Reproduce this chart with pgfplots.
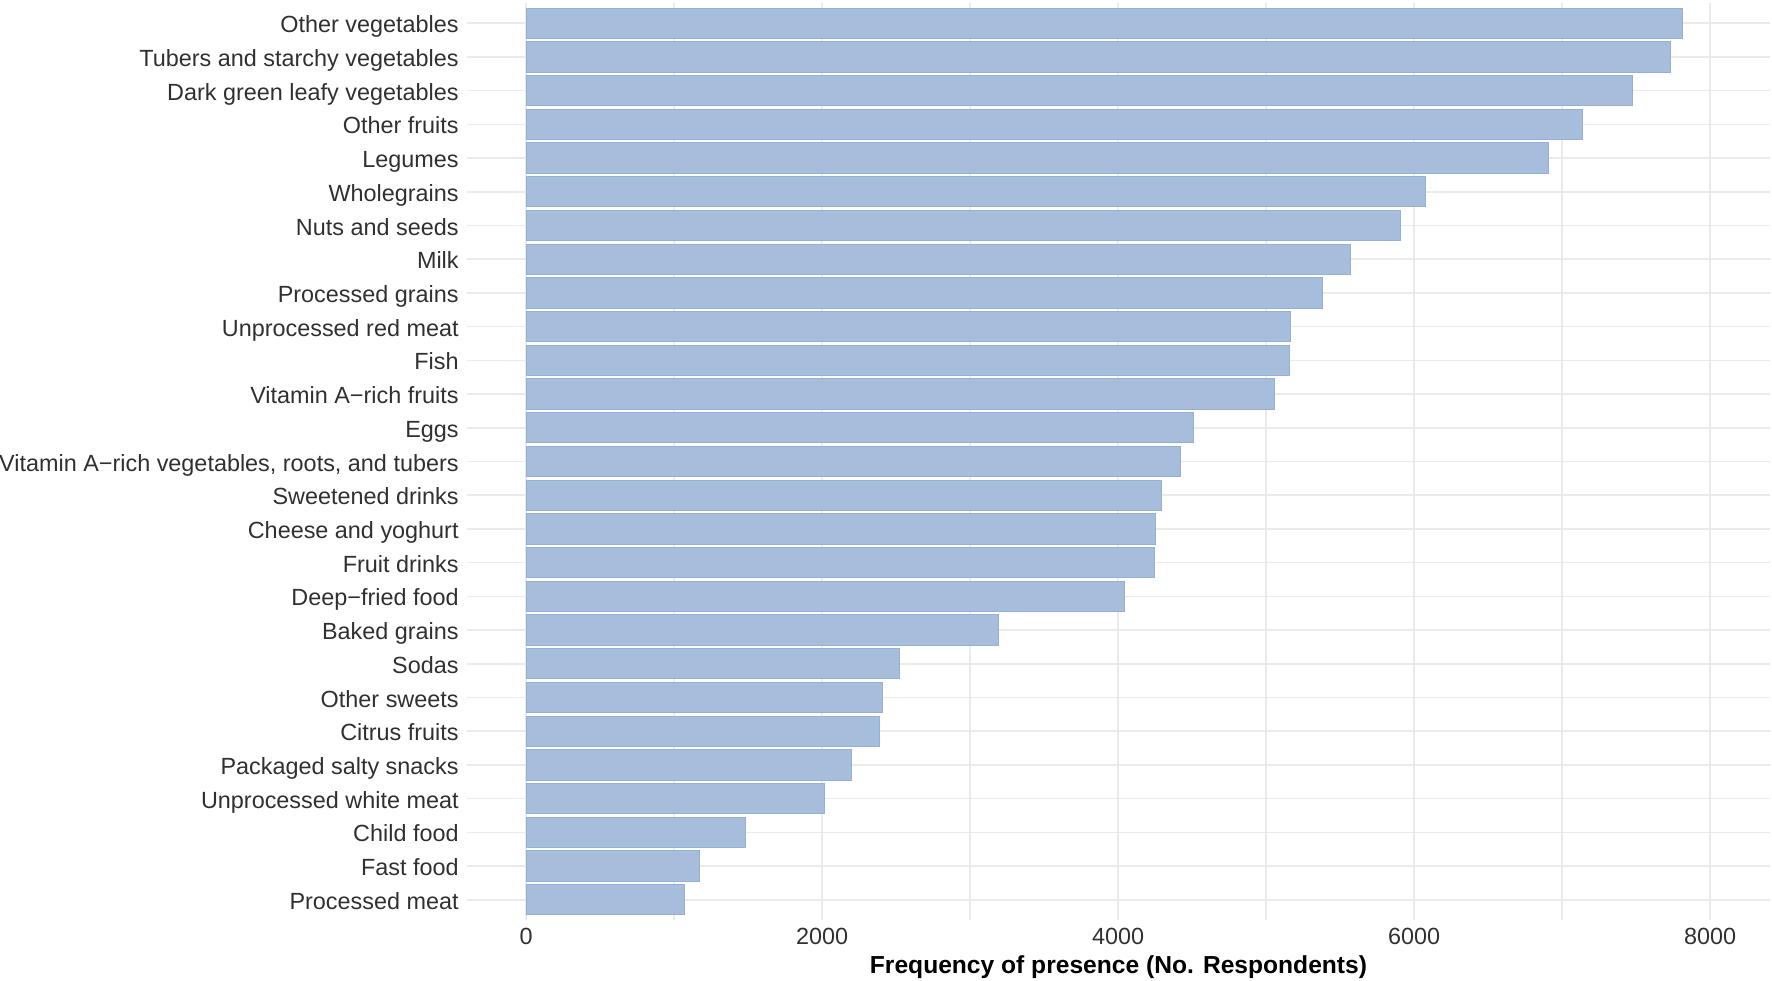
\documentclass[border=0pt]{standalone}
\usepackage{fontspec}
\setmainfont{Liberation Sans}
\usepackage{pgfplots}
\pgfplotsset{compat=1.18}
\usepackage{pgfplotstable}

\definecolor{barfill}{RGB}{167,189,220}
\definecolor{barline}{RGB}{150,175,213}
\definecolor{gridgrey}{RGB}{235,235,235}
\definecolor{ticktext}{RGB}{48,48,48}

% y = 0 is the bottom bar (Processed meat), y = 26 the top one
\pgfplotstableread{
y  n
0  1072
1  1172
2  1485
3  2015
4  2200
5  2390
6  2405
7  2525
8  3190
9  4045
10 4245
11 4250
12 4290
13 4420
14 4510
15 5060
16 5155
17 5165
18 5380
19 5570
20 5905
21 6075
22 6905
23 7135
24 7475
25 7730
26 7815
}\foodtable

\begin{document}
\begin{tikzpicture}
\begin{axis}[
    at={(233.5pt,30pt)}, anchor=south west,
    scale only axis,
    width=651.5pt, height=458.5pt,
    xbar, bar width=0.9, bar shift=0pt,
    xmin=-400, xmax=8405,
    ymin=-0.6, ymax=26.6,
    axis line style={draw=none},
    major tick length=0pt, minor tick length=0pt,
    xtick={0,2000,4000,6000,8000},
    minor xtick={1000,3000,5000,7000},
    ytick={0,...,26},
    yticklabels={Processed meat, Fast food, Child food, Unprocessed white meat,
        Packaged salty snacks, Citrus fruits, Other sweets, Sodas, Baked grains,
        Deep−fried food, Fruit drinks, Cheese and yoghurt, Sweetened drinks,
        {Vitamin A−rich vegetables, roots, and tubers}, Eggs, Vitamin A−rich fruits,
        Fish, Unprocessed red meat, Processed grains, Milk, Nuts and seeds,
        Wholegrains, Legumes, Other fruits, Dark green leafy vegetables,
        Tubers and starchy vegetables, Other vegetables},
    xmajorgrids, xminorgrids, ymajorgrids,
    major grid style={draw=gridgrey, line width=0.8pt},
    minor grid style={draw=gridgrey, line width=0.8pt},
    /pgf/number format/assume math mode=true,
    /pgf/number format/1000 sep={},
    scaled x ticks=false,
    tick label style={font=\fontsize{11.7}{14}\selectfont, text=ticktext},
    yticklabel style={inner sep=0pt, anchor=base east, xshift=-4pt, yshift=-4.8pt},
    xticklabel style={inner sep=0pt, yshift=-4pt},
    xlabel={Frequency of presence (No. Respondents)},
    xlabel style={at={(axis description cs:0.5,0)}, anchor=base, yshift=-26.5pt,
        font=\bfseries\fontsize{12.3}{14}\selectfont},
]
\addplot[fill=barfill, draw=barline, line width=0.5pt] table[x=n, y=y] {\foodtable};
\end{axis}
\pgfresetboundingbox
\path (0,0) rectangle (886pt,490pt);
\end{tikzpicture}
\end{document}
